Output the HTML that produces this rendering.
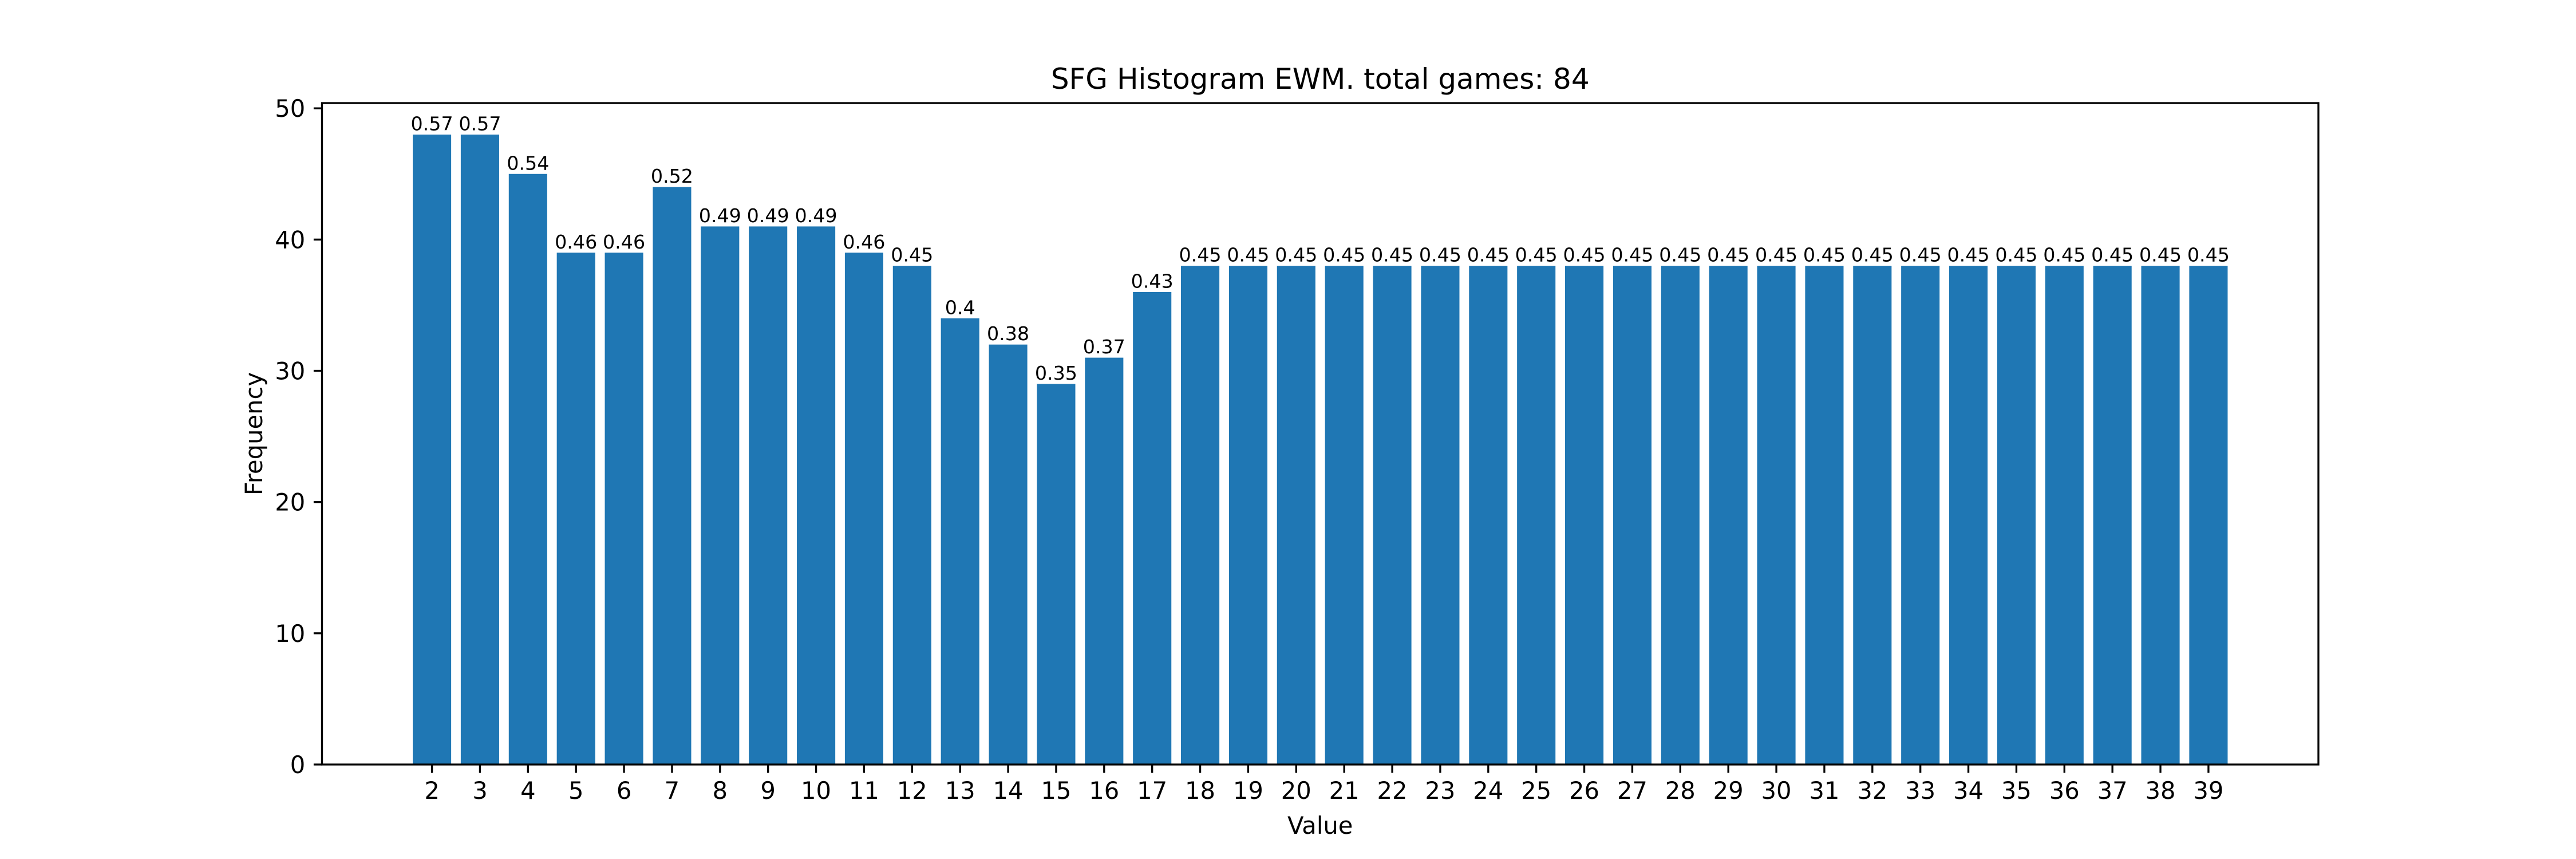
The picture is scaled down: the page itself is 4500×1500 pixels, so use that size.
<!DOCTYPE html>
<html><head><meta charset="utf-8"><style>
html,body{margin:0;padding:0;background:#fff}
svg{display:block;font-family:"DejaVu Sans","Liberation Sans",sans-serif}
</style></head><body>
<svg id="chart" width="4500" height="1500" viewBox="0 0 4500 1500" xmlns="http://www.w3.org/2000/svg">
<rect width="4500" height="1500" fill="#fff"/>
<text x="2306.25" y="155" font-size="50" text-anchor="middle" fill="#000">SFG Histogram EWM. total games: 84</text>
<g id="bars"></g>
<g id="xticks"></g>
<g id="yticks"></g>
<rect x="562.5" y="180" width="3487.5" height="1155" fill="none" stroke="#000" stroke-width="3.33"/>
<text x="2306.25" y="1456" font-size="41.67" text-anchor="middle" fill="#000">Value</text>
<text x="0" y="0" font-size="41.67" text-anchor="middle" fill="#000" transform="translate(458,757.5) rotate(-90)">Frequency</text>
</svg>
<script>
const categories = [2,3,4,5,6,7,8,9,10,11,12,13,14,15,16,17,18,19,20,21,22,23,24,25,26,27,28,29,30,31,32,33,34,35,36,37,38,39];
const frequencies = [48,48,45,39,39,44,41,41,41,39,38,34,32,29,31,36,38,38,38,38,38,38,38,38,38,38,38,38,38,38,38,38,38,38,38,38,38,38];
const barLabels = ["0.57","0.57","0.54","0.46","0.46","0.52","0.49","0.49","0.49","0.46","0.45","0.4","0.38","0.35","0.37","0.43","0.45","0.45","0.45","0.45","0.45","0.45","0.45","0.45","0.45","0.45","0.45","0.45","0.45","0.45","0.45","0.45","0.45","0.45","0.45","0.45","0.45","0.45"];
const yTickValues = [0,10,20,30,40,50];

const NS = "http://www.w3.org/2000/svg";
const L = 562.5, R = 4050, T = 180, B = 1335;
const bw = 0.8;
const cmin = Math.min(...categories), cmax = Math.max(...categories);
const dlo = cmin - bw/2, dhi = cmax + bw/2, m = (dhi - dlo) * 0.05;
const xmin = dlo - m, xmax = dhi + m;
const ymax = Math.max(...frequencies) * 1.05;
const xs = v => L + (v - xmin) / (xmax - xmin) * (R - L);
const ys = v => B - v / ymax * (B - T);

const gb = document.getElementById('bars');
const gx = document.getElementById('xticks');
const gy = document.getElementById('yticks');
function mk(tag, attrs, parent){const e=document.createElementNS(NS,tag);for(const k in attrs)e.setAttribute(k,attrs[k]);parent.appendChild(e);return e;}

categories.forEach((c,i)=>{
  const x0 = xs(c - bw/2), x1 = xs(c + bw/2), yt = ys(frequencies[i]);
  const r = mk('rect',{x:x0,y:yt,width:x1-x0,height:B-yt,fill:'#1f77b4'},gb);
  
  
  const t = mk('text',{x:xs(c),y:yt-7.5,'font-size':33.3,'text-anchor':'middle',fill:'#000'},gb);
  t.textContent = barLabels[i];
  
  
  const tk = mk('line',{x1:xs(c),x2:xs(c),y1:B,y2:B+14.6,stroke:'#000','stroke-width':3.33},gx);
  
  
  const tl = mk('text',{x:xs(c),y:B+14.6+14.6+31,'font-size':41.67,'text-anchor':'middle',fill:'#000'},gx);
  tl.textContent = String(c);
  
  
});
yTickValues.forEach(v=>{
  const y = ys(v);
  const tk = mk('line',{x1:L-14.6,x2:L,y1:y,y2:y,stroke:'#000','stroke-width':3.33},gy);
  
  
  const tl = mk('text',{x:L-14.6-14.6,y:y+15,'font-size':41.67,'text-anchor':'end',fill:'#000'},gy);
  tl.textContent = String(v);
  
  
});
</script>
</body></html>
